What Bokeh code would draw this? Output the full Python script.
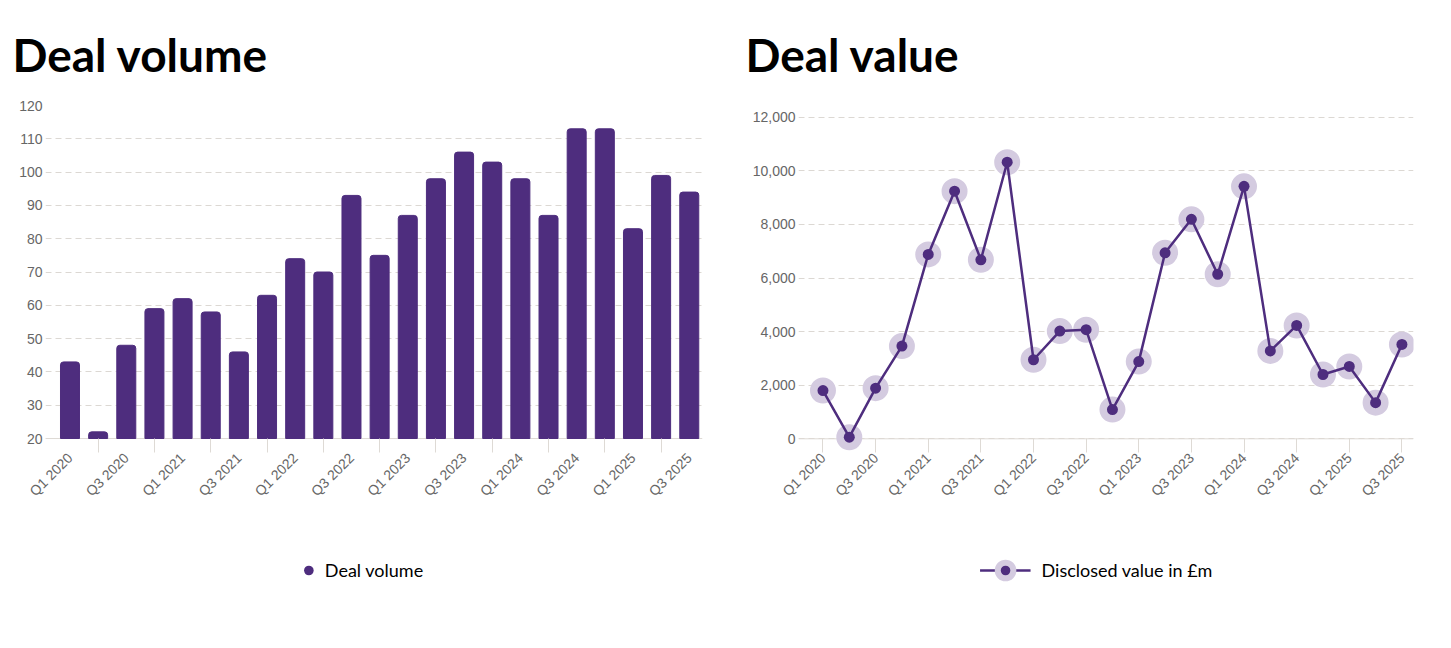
import math
from bokeh.plotting import figure
from bokeh.models import (ColumnDataSource, Range1d, FixedTicker, Legend, LegendItem,
                          NumeralTickFormatter, Span)
from bokeh.layouts import row, column
from bokeh.embed import file_html
from bokeh.resources import INLINE

# ---------------- data ----------------
quarters = ["Q1 2020", "Q2 2020", "Q3 2020", "Q4 2020",
            "Q1 2021", "Q2 2021", "Q3 2021", "Q4 2021",
            "Q1 2022", "Q2 2022", "Q3 2022", "Q4 2022",
            "Q1 2023", "Q2 2023", "Q3 2023", "Q4 2023",
            "Q1 2024", "Q2 2024", "Q3 2024", "Q4 2024",
            "Q1 2025", "Q2 2025", "Q3 2025"]
deal_volume = [43, 22, 48, 59, 62, 58, 46, 63, 74, 70, 93, 75,
               87, 98, 106, 103, 98, 87, 113, 113, 83, 99, 94]
deal_value = [1800, 60, 1890, 3460, 6880, 9240, 6680, 10320, 2950, 4020, 4070, 1090,
              2880, 6940, 8190, 6140, 9420, 3280, 4230, 2400, 2700, 1350, 3520]
volume_ticks = [20, 30, 40, 50, 60, 70, 80, 90, 100, 110, 120]
value_ticks = [0, 2000, 4000, 6000, 8000, 10000, 12000]

PURPLE = "#4e2d7e"
LAVENDER = "#d4cbe0"
GRID = "#dcd8d3"
AXIS = "#dedad5"
LABEL = "#666666"
LABEL_FONT = "Liberation Sans"

idx = list(range(len(quarters)))
even = [i for i in idx if i % 2 == 0]
odd = [i for i in idx if i % 2 == 1]
label_map = {i: quarters[i] for i in even}

src_vol = ColumnDataSource(dict(idx=idx, vol=deal_volume))
src_val = ColumnDataSource(dict(idx=idx, val=deal_value))

FRAME_H = 347


def style_common(p):
    p.outline_line_color = None
    p.background_fill_color = "white"
    p.border_fill_color = "white"
    p.xgrid.visible = False
    p.ygrid.grid_line_color = GRID
    p.ygrid.grid_line_dash = "6 4"
    p.ygrid.grid_line_width = 1
    p.yaxis.axis_line_color = None
    p.yaxis.major_tick_line_color = None
    p.yaxis.minor_tick_line_color = None
    p.yaxis.major_tick_out = 0
    p.yaxis.major_tick_in = 0
    p.yaxis.major_label_standoff = 3
    p.yaxis.major_label_text_font = LABEL_FONT
    p.yaxis.major_label_text_font_size = "14px"
    p.yaxis.major_label_text_color = LABEL
    p.xaxis.axis_line_color = None
    p.xaxis.major_label_orientation = math.pi / 4
    p.xaxis.major_label_overrides = label_map
    p.xaxis.major_label_text_font = LABEL_FONT
    p.xaxis.major_label_text_font_size = "14px"
    p.xaxis.major_label_text_color = LABEL
    p.xaxis.major_label_standoff = 3
    p.xaxis.major_tick_line_color = None
    p.xaxis.major_tick_in = 0
    p.xaxis.major_tick_out = 0
    p.xaxis.minor_tick_line_color = AXIS
    p.xaxis.minor_tick_in = 14
    p.xaxis.minor_tick_out = 0
    p.title.text_font = "Lato"
    p.title.text_font_size = "46px"
    p.title.text_font_style = "bold"
    p.title.text_color = "black"
    p.title.align = "left"
    p.title.standoff = 48


def legend_figure(width, left=0, right=0):
    # a strip that only shows a legend; its ranges keep the data out of view
    f = figure(width=width, height=96, x_range=Range1d(-3, -2), y_range=Range1d(-3, -2),
               output_backend="svg", toolbar_location=None,
               x_axis_location=None, y_axis_location=None,
               min_border=0, min_border_left=left, min_border_right=right,
               min_border_top=0, min_border_bottom=0)
    f.outline_line_color = None
    f.grid.visible = False
    f.background_fill_color = "white"
    f.border_fill_color = "white"
    return f


def make_legend(items, gw, gh, standoff):
    return Legend(items=items, orientation="horizontal", location="center",
                  border_line_color=None, background_fill_alpha=0,
                  label_text_font="Lato", label_text_font_size="18px",
                  label_text_color="black", glyph_width=gw, glyph_height=gh,
                  label_standoff=standoff, margin=0, padding=10)


# ---------------- left: deal volume ----------------
p1 = figure(frame_width=657, frame_height=FRAME_H,
            x_range=Range1d(-0.87, 22.47), y_range=Range1d(15.8, 120),
            output_backend="svg", toolbar_location=None, title="Deal volume",
            min_border_left=45, min_border_right=23, min_border_top=105,
            min_border_bottom=70)
style_common(p1)
p1.title.offset = -33
p1.yaxis.ticker = FixedTicker(ticks=volume_ticks)
p1.xaxis.ticker = FixedTicker(ticks=even, minor_ticks=odd)
p1.add_layout(Span(location=volume_ticks[0], dimension="width", line_color=AXIS,
                   line_width=1, level="underlay"))
p1.vbar(x="idx", top="vol", bottom=volume_ticks[0], width=0.675, source=src_vol,
        fill_color=PURPLE, line_color=PURPLE, border_radius=(3, 3, 0, 0))

# legend strip for the left chart
l1 = legend_figure(725, left=0, right=6)
dot1 = l1.scatter(x="idx", y="vol", source=src_vol, size=10, fill_color=PURPLE,
                  line_color=None)
l1.add_layout(make_legend([LegendItem(label="Deal volume", renderers=[dot1])], 24, 24, 5))

# ---------------- right: deal value ----------------
p2 = figure(frame_width=615, frame_height=FRAME_H,
            x_range=Range1d(-0.93, 22.44), y_range=Range1d(-511, 12437),
            output_backend="svg", toolbar_location=None, title="Deal value",
            min_border_left=73, min_border_right=38, min_border_top=105,
            min_border_bottom=70)
style_common(p2)
p2.title.offset = -53
p2.yaxis.ticker = FixedTicker(ticks=value_ticks)
p2.yaxis.formatter = NumeralTickFormatter(format="0,0")
p2.xaxis.ticker = FixedTicker(ticks=even, minor_ticks=even)
p2.add_layout(Span(location=value_ticks[0], dimension="width", line_color=AXIS,
                   line_width=1, level="underlay"))

p2.scatter("idx", "val", source=src_val, size=14, fill_color=LAVENDER,
           line_color=LAVENDER, line_width=12)
p2.line("idx", "val", source=src_val, line_color=PURPLE, line_width=2.5)
p2.scatter("idx", "val", source=src_val, size=11, fill_color=PURPLE, line_color=None)

# legend strip for the right chart
l2 = legend_figure(726, left=16, right=0)
lg_line = l2.line(x="idx", y="val", source=src_val, line_color=PURPLE, line_width=2.5)
lg_halo = l2.scatter(x="idx", y="val", source=src_val, size=14, fill_color=LAVENDER,
                     line_color=LAVENDER, line_width=12)
lg_dot = l2.scatter(x="idx", y="val", source=src_val, size=11, fill_color=PURPLE,
                    line_color=None)
l2.add_layout(make_legend([LegendItem(label="Disclosed value in £m",
                                      renderers=[lg_line, lg_halo, lg_dot])], 51, 24, 11))

layout = column(row(p1, p2), row(l1, l2))
open("out.html", "w").write(file_html(layout, INLINE))
